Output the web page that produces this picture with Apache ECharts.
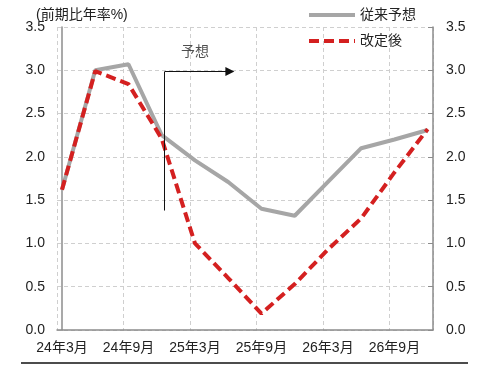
<!DOCTYPE html>
<html><head><meta charset="utf-8">
<script src="https://cdn.jsdelivr.net/npm/echarts@6/dist/echarts.min.js"></script>
<style>html,body{margin:0;padding:0;background:#fff}#c{width:496px;height:365px}</style>
</head><body><div id="c"></div>
<script>
// quarters: 24年3月 ... 26年12月 (index 0..11)
const tickLabels = ['24年3月','24年9月','25年3月','25年9月','26年3月','26年9月'];
const quarterIdx = [0,1,2,3,4,5,6,7,8,9,10,11];
const prevForecast = [1.62,3.00,3.07,2.25,1.96,1.71,1.40,1.32,1.71,2.10,2.20,2.31];
const revised      = [1.62,2.99,2.84,2.21,1.00,0.60,0.19,0.53,0.93,1.29,1.82,2.32];
const yTicks = [0,0.5,1.0,1.5,2.0,2.5,3.0,3.5];
// forecast-start annotation (data coordinates)
const arrowStem = [[3.09,1.38],[3.09,2.985]];
const arrowHead = [[3.09,2.985],[5.05,2.985]];
const arrowLabelPos = [4.0,3.21];
const arrowLabel = '予想';

const FONT = '"Liberation Sans","Noto Sans CJK JP",sans-serif';
const xMin = -0.15, xMax = 11.16;
const chart = echarts.init(document.getElementById('c'));
const axisGray = '#8c8c8c';
chart.setOption({
  animation: false,
  textStyle: {fontFamily: FONT},
  title: {text: '(前期比年率%)', left: 31, top: 3,
    textStyle: {fontSize: 14, fontWeight: 'normal', color: '#222', fontFamily: FONT}},
  legend: {
    data: ['従来予想','改定後'], orient: 'vertical', left: 302, top: 3,
    itemWidth: 46, itemHeight: 14, itemGap: 12,
    itemStyle: {opacity: 0, borderWidth: 0},
    lineStyle: {width: 4},
    textStyle: {fontSize: 14, color: '#222', fontFamily: FONT}
  },
  grid: {left: 57, right: 63, top: 27, bottom: 35},
  xAxis: {
    type: 'value', min: xMin, max: xMax, interval: 2,
    axisLine: {show: true, onZero: false, lineStyle: {color: axisGray, width: 1.5}},
    axisTick: {show: false},
    splitLine: {show: true, lineStyle: {color: '#cfcfcf', type: [4,3], width: 1}},
    axisLabel: {
      fontSize: 14, color: '#222', margin: 11, padding: [0,0,0,10],
      formatter: function(v){
        const i = Math.round((v - xMin)/2);
        if (Math.abs(v - (xMin + 2*i)) > 0.01 || i < 0 || i >= tickLabels.length) return '';
        return tickLabels[i];
      }
    }
  },
  yAxis: [
    {type: 'value', min: 0, max: 3.5, interval: 0.5, position: 'left',
     axisLine: {show: true, lineStyle: {color: axisGray, width: 1.5}},
     axisTick: {show: false},
     splitLine: {show: true, lineStyle: {color: '#cfcfcf', type: [4,3], width: 1}},
     axisLabel: {fontSize: 14, color: '#222', margin: 12, formatter: v => v.toFixed(1)}},
    {type: 'value', min: 0, max: 3.5, interval: 0.5, position: 'right',
     axisLine: {show: true, lineStyle: {color: axisGray, width: 1.5}},
     axisTick: {show: true, inside: true, length: 5, lineStyle: {color: axisGray}},
     splitLine: {show: false},
     axisLabel: {fontSize: 14, color: '#222', margin: 13, formatter: v => v.toFixed(1)}}
  ],
  series: [
    {name: '従来予想', type: 'line', symbol: 'none', z: 2,
     data: quarterIdx.map((q,i)=>[q, prevForecast[i]]),
     lineStyle: {color: '#a6a6a6', width: 4}, itemStyle: {color: '#a6a6a6'}},
    {name: '改定後', type: 'line', symbol: 'none', z: 3,
     data: quarterIdx.map((q,i)=>[q, revised[i]]),
     lineStyle: {color: '#d42020', width: 4, type: [10,5], cap: 'butt'}, itemStyle: {color: '#d42020'}},
    {type: 'lines', coordinateSystem: 'cartesian2d', z: 4,
     symbol: ['none','none'], silent: true,
     lineStyle: {color: '#111', width: 1, opacity: 1},
     data: [{coords: arrowStem}]},
    {type: 'lines', coordinateSystem: 'cartesian2d', z: 4,
     symbol: ['none','triangle'], symbolSize: [9,9], silent: true,
     lineStyle: {color: '#111', width: 1, opacity: 1},
     data: [{coords: arrowHead}]},
    {type: 'scatter', symbolSize: 0, silent: true, z: 5,
     data: [arrowLabelPos],
     label: {show: true, position: 'inside', formatter: arrowLabel, fontSize: 14, color: '#222', fontFamily: FONT}}
  ],
  graphic: [
    {type: 'line', shape: {x1: 21, y1: 363, x2: 468, y2: 363}, style: {stroke: '#111', lineWidth: 1.5}}
  ]
});
</script></body></html>
